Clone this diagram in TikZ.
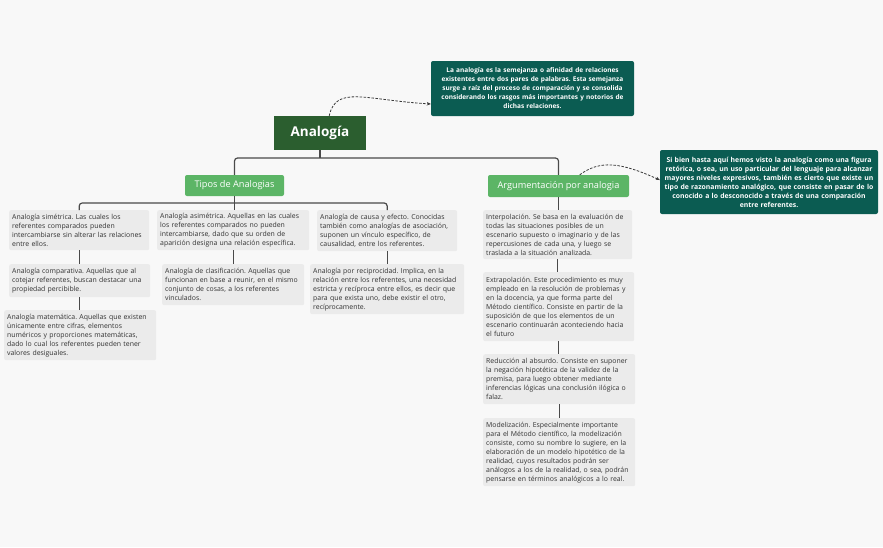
\documentclass[tikz,border=0pt]{standalone}
\usepackage{fontspec}
\setmainfont{Open Sans}
\frenchspacing
\usetikzlibrary{arrows.meta,calc}
\definecolor{bgc}{HTML}{F8F8F8}
\definecolor{darkg}{HTML}{2B5E2F}
\definecolor{tealc}{HTML}{0B5C52}
\definecolor{lightg}{HTML}{5CB566}
\definecolor{boxg}{HTML}{EBEBEB}
\definecolor{txtc}{HTML}{333333}
\definecolor{linec}{HTML}{4A4A4A}
\tikzset{
  gbox/.style={fill=boxg, rounded corners=2pt, anchor=north west, inner xsep=3pt, inner ysep=2pt,
    text=txtc, align=left, font=\fontsize{6.9}{9}\selectfont\frenchspacing},
  tbox/.style={fill=tealc, rounded corners=2pt, text=white, align=center,
    font=\fontsize{6.5}{9}\selectfont\bfseries\frenchspacing, inner sep=0pt},
  cbox/.style={fill=lightg, rounded corners=2pt, text=white, font=\fontsize{9.2}{10}\selectfont, inner sep=0pt},
  conn/.style={draw=linec, line width=1.2pt, rounded corners=3pt},
  dconn/.style={draw=linec!80!black, line width=0.8pt, dash pattern=on 2.5pt off 1.5pt, -{Stealth[length=4pt,width=3.5pt]}}
}
\begin{document}
\begin{tikzpicture}[x=1pt,y=-1pt]
\useasboundingbox[fill=bgc] (0,0) rectangle (883,547);

% main nodes
\node[fill=darkg, text=white, font=\fontsize{13.5}{15}\selectfont\bfseries, minimum width=92pt, minimum height=34pt, inner sep=0pt] (ana) at (320,133) {Analogía};
\node[tbox, minimum width=203pt, minimum height=55pt, text width=200pt] (def) at (532.5,88.5)
 {La analogía es la semejanza o afinidad de relaciones\\existentes entre dos pares de palabras. Esta semejanza\\surge a raíz del proceso de comparación y se consolida\\considerando los rasgos más importantes y notorios de\\dichas relaciones.};
\node[cbox, minimum width=99pt, minimum height=21pt] (tip) at (234.5,185.5) {Tipos de Analogias};
\node[cbox, minimum width=141pt, minimum height=22pt] (arg) at (558.5,186) {Argumentación por analogia};
\node[tbox, minimum width=218pt, minimum height=64pt, text width=216pt, font=\fontsize{6.85}{9}\selectfont\bfseries\frenchspacing] (def2) at (769,182)
 {Si bien hasta aquí hemos visto la analogía como una figura\\retórica, o sea, un uso particular del lenguaje para alcanzar\\mayores niveles expresivos, también es cierto que existe un\\tipo de razonamiento analógico, que consiste en pasar de lo\\conocido a lo desconocido a través de una comparación\\entre referentes.};

% left gray boxes
\node[gbox, text width=134pt, minimum height=40pt] (b1) at (9,210)
 {Analogía simétrica. Las cuales los\\referentes comparados pueden\\intercambiarse sin alterar las relaciones\\entre ellos.};
\node[gbox, text width=146pt, minimum height=40pt] (b2) at (157,210)
 {Analogía asimétrica. Aquellas en las cuales\\los referentes comparados no pueden\\intercambiarse, dado que su orden de\\aparición designa una relación específica.};
\node[gbox, text width=134pt, minimum height=41pt] (b3) at (317,210)
 {Analogía de causa y efecto. Conocidas\\también como analogías de asociación,\\suponen un vínculo específico, de\\causalidad, entre los referentes.};
\node[gbox, text width=135pt, minimum height=33pt] (b4) at (9,264)
 {Analogía comparativa. Aquellas que al\\cotejar referentes, buscan destacar una\\propiedad percibible.};
\node[gbox, text width=146pt, minimum height=50pt] (b5) at (4,310)
 {Analogía matemática. Aquellas que existen\\únicamente entre cifras, elementos\\numéricos y proporciones matemáticas,\\dado lo cual los referentes pueden tener\\valores desiguales.};
\node[gbox, text width=136pt, minimum height=41pt] (b6) at (162,264)
 {Analogía de clasificación. Aquellas que\\funcionan en base a reunir, en el mismo\\conjunto de cosas, a los referentes\\vinculados.};
\node[gbox, text width=148pt, minimum height=50pt] (b7) at (310,264)
 {Analogía por reciprocidad. Implica, en la\\relación entre los referentes, una necesidad\\estricta y recíproca entre ellos, es decir que\\para que exista uno, debe existir el otro,\\recíprocamente.};

% right gray boxes
\node[gbox, text width=143pt, minimum height=49pt] (r1) at (483,210)
 {Interpolación. Se basa en la evaluación de\\todas las situaciones posibles de un\\escenario supuesto o imaginario y de las\\repercusiones de cada una, y luego se\\traslada a la situación analizada.};
\node[gbox, text width=145pt, minimum height=69pt] (r2) at (483,272)
 {Extrapolación. Este procedimiento es muy\\empleado en la resolución de problemas y\\en la docencia, ya que forma parte del\\Método científico. Consiste en partir de la\\suposición de que los elementos de un\\escenario continuarán aconteciendo hacia\\el futuro};
\node[gbox, text width=146pt, minimum height=50pt] (r3) at (483,354)
 {Reducción al absurdo. Consiste en suponer\\la negación hipotética de la validez de la\\premisa, para luego obtener mediante\\inferencias lógicas una conclusión ilógica o\\falaz.};
\node[gbox, text width=146pt, minimum height=68pt] (r4) at (483,418)
 {Modelización. Especialmente importante\\para el Método científico, la modelización\\consiste, como su nombre lo sugiere, en la\\elaboración de un modelo hipotético de la\\realidad, cuyos resultados podrán ser\\análogos a los de la realidad, o sea, podrán\\pensarse en términos analógicos a lo real.};

% connectors
\coordinate (mbar) at (0,158);
\coordinate (tbar) at (0,203);
\draw[conn] (ana.south) -- (ana.south |- mbar);
\draw[conn] (tip.north) |- (arg.north |- mbar) -- (arg.north);
\draw[conn] (b1.north) |- (b3.north |- tbar) -- (b3.north);
\draw[conn] (tip.south) -- (tip.south |- b2.north);
\draw[conn] (b1.south) -- (b1.south |- b4.north);
\draw[conn] (b4.south) -- (b4.south |- b5.north);
\draw[conn] (b2.south) -- (b2.south |- b6.north);
\draw[conn] (b3.south) -- (b3.south |- b7.north);
\draw[conn] (arg.south) -- (arg.south |- r1.north);
\draw[conn] (r1.south) -- (r1.south |- r2.north);
\draw[conn] (r2.south) -- (r2.south |- r3.north);
\draw[conn] (r3.south) -- (r3.south |- r4.north);

% dashed callouts
\draw[dconn] ($(ana.north west)!0.6!(ana.north east)$) .. controls (336,85) and (365,100) .. (def.west |- 0,104);
\draw[dconn] ($(arg.north west)!0.65!(arg.north east)$) .. controls (600,160) and (620,162) .. (def2.west |- 0,180);
\end{tikzpicture}
\end{document}
